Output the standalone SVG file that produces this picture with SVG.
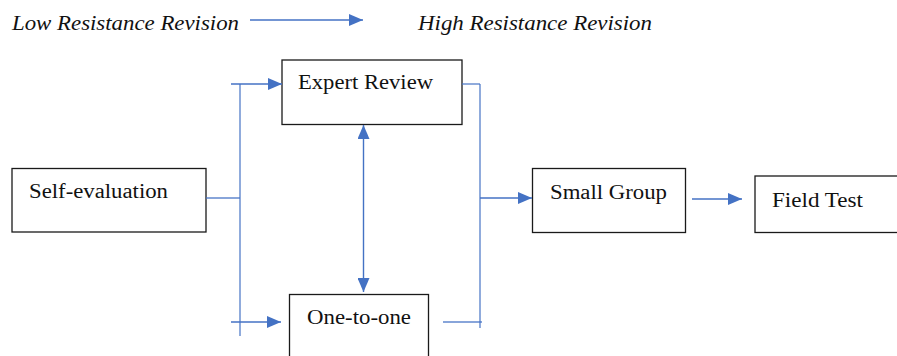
<svg xmlns="http://www.w3.org/2000/svg" width="897" height="356" viewBox="0 0 897 356">
<defs>
<marker id="ah" markerUnits="userSpaceOnUse" markerWidth="14" markerHeight="12" refX="14" refY="6" orient="auto-start-reverse">
<path d="M0,0 L14,6 L0,12 z" fill="#4472C4"/>
</marker>
<style>
.box{fill:#fff;stroke:#1a1a1a;stroke-width:1.3}
.lbl{font-family:"Liberation Serif","Times New Roman",serif;font-size:20px;fill:#111}
.it{font-family:"Liberation Serif","Times New Roman",serif;font-size:20px;font-style:italic;fill:#111}
.ln{fill:none;stroke:#4472C4;stroke-width:1.4;opacity:0.85}
.ar{fill:none;stroke:#4472C4;stroke-width:1.4;marker-end:url(#ah)}
</style>
</defs>
<rect width="897" height="356" fill="#fff"/>
<g id="legend">
<text class="it" x="12" y="30" textLength="227" lengthAdjust="spacingAndGlyphs">Low Resistance Revision</text>
<text class="it" x="418" y="30" textLength="234" lengthAdjust="spacingAndGlyphs">High Resistance Revision</text>
</g>
<g id="self-evaluation">
<rect class="box" x="12" y="168.5" width="194" height="63.5"/>
<text class="lbl" x="29" y="198" textLength="139" lengthAdjust="spacingAndGlyphs">Self-evaluation</text>
</g>
<g id="expert-review">
<rect class="box" x="282" y="60" width="180" height="64.5"/>
<text class="lbl" x="298" y="89" textLength="135" lengthAdjust="spacingAndGlyphs">Expert Review</text>
</g>
<g id="one-to-one">
<rect class="box" x="289.5" y="294.5" width="139" height="70"/>
<text class="lbl" x="307" y="324" textLength="104" lengthAdjust="spacingAndGlyphs">One-to-one</text>
</g>
<g id="small-group">
<rect class="box" x="532.5" y="168.5" width="153" height="64"/>
<text class="lbl" x="550" y="199" textLength="117" lengthAdjust="spacingAndGlyphs">Small Group</text>
</g>
<g id="field-test">
<rect class="box" x="755" y="176" width="150" height="56.5"/>
<text class="lbl" x="772" y="207" textLength="91" lengthAdjust="spacingAndGlyphs">Field Test</text>
</g>
<g id="connectors">
<line class="ar" x1="250" y1="20" x2="363" y2="20"/>
<line class="ln" x1="206" y1="198" x2="240" y2="198"/>
<line class="ln" x1="240" y1="84" x2="240" y2="336"/>
<line class="ar" x1="231" y1="84" x2="282" y2="84"/>
<line class="ar" x1="231" y1="322" x2="281" y2="322"/>
<line class="ln" x1="462" y1="84" x2="480" y2="84"/>
<line class="ln" x1="480" y1="84" x2="480" y2="328"/>
<line class="ln" x1="443" y1="322" x2="482" y2="322"/>
<line class="ar" x1="480" y1="198" x2="532" y2="198"/>
<line class="ar" x1="692" y1="199" x2="742" y2="199"/>
<line class="ar" x1="363.5" y1="125" x2="363.5" y2="292" style="marker-start:url(#ah)"/>
</g>
</svg>
